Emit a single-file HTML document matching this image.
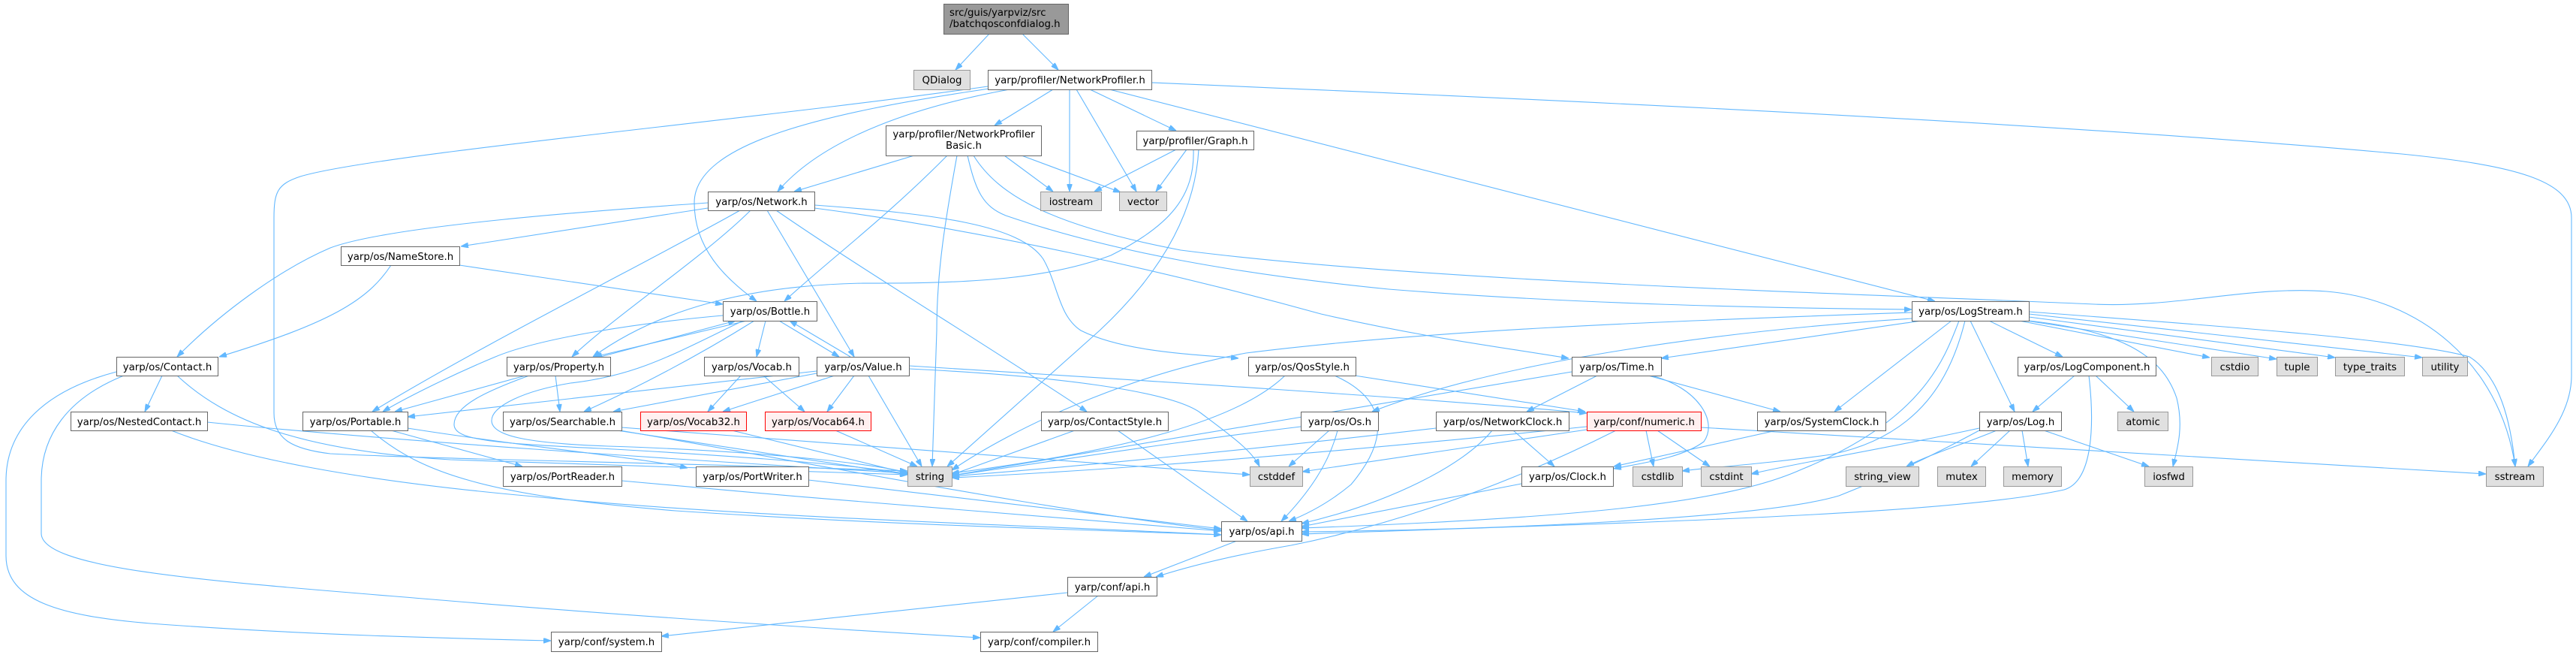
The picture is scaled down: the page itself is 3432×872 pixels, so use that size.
<!DOCTYPE html>
<html><head><meta charset="utf-8"><style>
html,body{margin:0;padding:0;background:#fff;}
svg{display:block;}
text{font-family:"DejaVu Sans","Liberation Sans",sans-serif;font-size:13.33px;fill:#000;}
.n{fill:#fff;stroke:#666;stroke-width:1;}
.g{fill:#e0e0e0;stroke:#999;stroke-width:1;}
.r{fill:#fff0f0;stroke:#ff0000;stroke-width:1;}
.t{fill:#999;stroke:#666;stroke-width:1;}
path.e{fill:none;stroke:#63b8ff;stroke-width:1.1;marker-end:url(#a);}
</style></head><body>
<svg width="3432" height="872" viewBox="0 0 3432 872" xmlns="http://www.w3.org/2000/svg">
<defs><marker id="a" viewBox="0 0 10 7" refX="10" refY="3.5" markerWidth="10" markerHeight="7" markerUnits="userSpaceOnUse" orient="auto"><path d="M0,0 L10,3.5 L0,7 Z" fill="#63b8ff" stroke="#63b8ff" stroke-width="1"/></marker></defs>
<rect width="3432" height="872" fill="#fff"/>
<g>
<path class="e" d="M1318,45 L1273,93"/>
<path class="e" d="M1362,45 L1410,93"/>
<path class="e" d="M1403,119 L1325,167"/>
<path class="e" d="M1425,119 L1425,255"/>
<path class="e" d="M1434,119 L1514,255"/>
<path class="e" d="M1452,119 L1567,174"/>
<path class="e" d="M1478,119 L2578,401"/>
<path class="e" d="M1534,110 C2000,130 2700,160 3200,205 C3350,220 3426,240 3426,290 L3426,500 C3426,550 3390,590 3368,621"/>
<path class="e" d="M1345,119 C1230,140 1100,180 1036,255"/>
<path class="e" d="M1318,118 C1100,150 925,190 925,270 C925,330 965,370 1008,401"/>
<path class="e" d="M1316,115 C1000,160 500,205 400,235 C370,245 365,255 365,290 L365,550 C365,585 390,598 440,604 C600,612 900,616 1209,627"/>
<path class="e" d="M1218,207 L1058,255"/>
<path class="e" d="M1262,207 C1180,290 1100,350 1045,401"/>
<path class="e" d="M1275,207 C1260,290 1248,360 1248,440 L1242,621"/>
<path class="e" d="M1289,207 C1300,255 1310,275 1340,287 C1480,335 1650,365 1850,385 C2100,405 2350,410 2547,412"/>
<path class="e" d="M1297,207 C1330,260 1400,300 1573,333 C1900,375 2450,390 2790,405 C2900,410 3000,380 3100,388 C3220,398 3330,480 3351,621"/>
<path class="e" d="M1338,207 L1403,255"/>
<path class="e" d="M1361,207 L1493,256"/>
<path class="e" d="M1567,199 L1458,255"/>
<path class="e" d="M1581,199 L1540,255"/>
<path class="e" d="M1590,199 C1592,260 1560,300 1480,340 C1400,370 1300,378 1150,377 C1000,380 880,410 790,475"/>
<path class="e" d="M1597,199 C1592,290 1540,370 1465,440 L1262,621"/>
<path class="e" d="M943,270 C800,280 520,300 440,330 C370,360 290,420 236,475"/>
<path class="e" d="M943,277 L614,328"/>
<path class="e" d="M986,280 C880,340 640,460 496,548"/>
<path class="e" d="M1000,280 C940,340 820,420 762,475"/>
<path class="e" d="M1022,280 L1138,475"/>
<path class="e" d="M1034,280 C1150,360 1300,450 1448,548"/>
<path class="e" d="M1085,273 C1250,285 1360,300 1390,345 C1410,380 1410,420 1440,440 C1500,470 1600,472 1650,477"/>
<path class="e" d="M1085,277 C1300,305 1550,360 1760,418 C1900,450 2000,462 2090,477"/>
<path class="e" d="M612,353 L963,405"/>
<path class="e" d="M521,353 C490,400 440,430 292,475"/>
<path class="e" d="M995,427 L792,475"/>
<path class="e" d="M800,475 L980,427"/>
<path class="e" d="M1020,427 L1008,475"/>
<path class="e" d="M1038,427 L1118,475"/>
<path class="e" d="M1133,475 L1052,427"/>
<path class="e" d="M963,420 C850,430 720,450 660,475 C600,500 540,530 510,548"/>
<path class="e" d="M1005,427 C920,480 840,520 778,548"/>
<path class="e" d="M990,427 C900,470 850,500 760,510 C700,520 655,540 655,560 C655,580 700,590 810,594 C1000,600 1150,615 1209,629"/>
<path class="e" d="M700,500 L526,548"/>
<path class="e" d="M740,500 L746,548"/>
<path class="e" d="M705,500 C650,520 605,540 605,565 C605,585 650,590 800,597 C1000,608 1150,620 1209,631"/>
<path class="e" d="M822,573 L1209,632"/>
<path class="e" d="M826,573 C1100,620 1400,680 1627,706"/>
<path class="e" d="M828,569 C1100,590 1450,615 1665,632"/>
<path class="e" d="M987,500 L943,548"/>
<path class="e" d="M1017,500 L1072,548"/>
<path class="e" d="M1112,500 L963,548"/>
<path class="e" d="M1138,500 L1102,548"/>
<path class="e" d="M1157,500 L1228,621"/>
<path class="e" d="M1088,497 L817,548"/>
<path class="e" d="M1088,494 L543,555"/>
<path class="e" d="M1211,491 C1400,500 1560,520 1600,550 C1640,580 1668,600 1678,621"/>
<path class="e" d="M1211,487 C1500,505 1900,530 2114,550"/>
<path class="e" d="M975,573 L1209,630"/>
<path class="e" d="M1113,573 L1222,621"/>
<path class="e" d="M1432,573 L1268,632"/>
<path class="e" d="M1489,573 L1662,694"/>
<path class="e" d="M1712,500 C1650,560 1500,600 1268,630"/>
<path class="e" d="M1778,500 C1845,530 1855,580 1800,645 C1770,670 1740,685 1717,694"/>
<path class="e" d="M1805,500 L2112,548"/>
<path class="e" d="M1771,573 L1717,621"/>
<path class="e" d="M1782,573 C1770,620 1740,660 1707,694"/>
<path class="e" d="M1733,568 C1550,590 1400,615 1268,633"/>
<path class="e" d="M2016,573 L2071,621"/>
<path class="e" d="M1988,573 C1950,620 1850,670 1734,697"/>
<path class="e" d="M1913,570 C1700,595 1450,620 1268,634"/>
<path class="e" d="M2193,573 L2203,621"/>
<path class="e" d="M2208,573 L2278,621"/>
<path class="e" d="M2114,572 L1735,628"/>
<path class="e" d="M2114,568 C1800,600 1500,625 1268,636"/>
<path class="e" d="M2266,569 L3312,631"/>
<path class="e" d="M2153,573 C2000,650 1850,700 1720,726 C1650,738 1590,752 1540,768"/>
<path class="e" d="M2128,500 L2034,548"/>
<path class="e" d="M2196,500 L2372,548"/>
<path class="e" d="M2200,500 C2260,515 2290,560 2270,588 C2240,610 2190,616 2150,624"/>
<path class="e" d="M2094,495 C1900,525 1600,575 1268,633"/>
<path class="e" d="M2367,573 L2150,621"/>
<path class="e" d="M2625,427 L2684,548"/>
<path class="e" d="M2650,427 L2748,475"/>
<path class="e" d="M2690,427 L2944,476"/>
<path class="e" d="M2700,427 L3033,478"/>
<path class="e" d="M2703,422 L3111,476"/>
<path class="e" d="M2703,418 L3227,476"/>
<path class="e" d="M2703,427 C2820,440 2880,470 2900,530 C2910,570 2900,600 2895,621"/>
<path class="e" d="M2703,415 C2900,430 3200,450 3290,475 C3330,500 3345,560 3351,621"/>
<path class="e" d="M2560,427 L2213,477"/>
<path class="e" d="M2547,424 C2300,440 2000,480 1828,548"/>
<path class="e" d="M2547,416 C2200,428 1900,440 1660,470 C1500,500 1350,570 1268,626"/>
<path class="e" d="M2600,427 L2444,548"/>
<path class="e" d="M2610,427 C2590,480 2560,560 2400,625 C2300,670 2100,690 1734,703"/>
<path class="e" d="M2618,427 C2600,500 2560,580 2440,605 C2350,618 2280,622 2241,627"/>
<path class="e" d="M2678,573 L2626,621"/>
<path class="e" d="M2694,573 L2702,621"/>
<path class="e" d="M2723,573 L2863,621"/>
<path class="e" d="M2660,573 C2620,590 2570,605 2540,621"/>
<path class="e" d="M2637,570 C2500,600 2400,615 2333,631"/>
<path class="e" d="M2637,573 C2550,620 2500,640 2450,660 C2350,690 2000,705 1734,708"/>
<path class="e" d="M2764,500 L2708,548"/>
<path class="e" d="M2792,500 L2843,548"/>
<path class="e" d="M2783,500 C2790,560 2790,640 2750,652 C2600,685 2200,695 1734,711"/>
<path class="e" d="M2027,644 L1734,701"/>
<path class="e" d="M1648,720 L1524,768"/>
<path class="e" d="M1422,789 L881,847"/>
<path class="e" d="M1463,793 L1403,841"/>
<path class="e" d="M216,500 L193,548"/>
<path class="e" d="M155,495 C60,520 8,570 8,640 L8,740 C8,800 80,820 200,830 C400,845 600,850 734,853"/>
<path class="e" d="M165,500 C90,530 55,580 55,640 L55,710 C55,760 300,775 600,800 C900,825 1150,840 1306,849"/>
<path class="e" d="M236,500 C300,560 400,600 600,612 C900,620 1100,628 1209,632"/>
<path class="e" d="M276,562 C500,585 900,612 1209,630"/>
<path class="e" d="M228,573 C320,610 480,640 700,660 C1000,690 1400,700 1627,712"/>
<path class="e" d="M521,573 L696,621"/>
<path class="e" d="M543,570 C700,595 860,610 916,623"/>
<path class="e" d="M494,573 C560,630 650,660 900,680 C1200,700 1450,705 1627,712"/>
<path class="e" d="M828,640 C1100,665 1400,690 1627,707"/>
<path class="e" d="M1077,639 C1300,665 1500,690 1627,704"/>
</g>
<g>
<rect class="t" x="1257.5" y="5.5" width="166" height="40"/>
<text x="1265" y="21">src/guis/yarpviz/src</text>
<text x="1265" y="36">/batchqosconfdialog.h</text>

<rect class="g" x="1217.5" y="93.5" width="75" height="26"/><text x="1255" y="111" text-anchor="middle">QDialog</text>
<rect class="n" x="1316.5" y="93.5" width="218" height="26"/><text x="1425.5" y="111" text-anchor="middle">yarp/profiler/NetworkProfiler.h</text>

<rect class="n" x="1180.5" y="167.5" width="207" height="40"/>
<text x="1284" y="183" text-anchor="middle">yarp/profiler/NetworkProfiler</text>
<text x="1284" y="198" text-anchor="middle">Basic.h</text>
<rect class="n" x="1514.5" y="174.5" width="156" height="25"/><text x="1592.5" y="192" text-anchor="middle">yarp/profiler/Graph.h</text>

<rect class="n" x="943.5" y="255.5" width="142" height="25"/><text x="1014.5" y="273" text-anchor="middle">yarp/os/Network.h</text>
<rect class="g" x="1386.5" y="255.5" width="81" height="25"/><text x="1427" y="273" text-anchor="middle">iostream</text>
<rect class="g" x="1491.5" y="255.5" width="63" height="25"/><text x="1523" y="273" text-anchor="middle">vector</text>

<rect class="n" x="454.5" y="328.5" width="158" height="25"/><text x="533.5" y="346" text-anchor="middle">yarp/os/NameStore.h</text>

<rect class="n" x="963.5" y="401.5" width="125" height="26"/><text x="1026" y="419" text-anchor="middle">yarp/os/Bottle.h</text>
<rect class="n" x="2547.5" y="401.5" width="156" height="26"/><text x="2625.5" y="419" text-anchor="middle">yarp/os/LogStream.h</text>

<rect class="n" x="155.5" y="475.5" width="135" height="25"/><text x="223" y="493" text-anchor="middle">yarp/os/Contact.h</text>
<rect class="n" x="675.5" y="475.5" width="138" height="25"/><text x="744.5" y="493" text-anchor="middle">yarp/os/Property.h</text>
<rect class="n" x="938.5" y="475.5" width="126" height="25"/><text x="1001.5" y="493" text-anchor="middle">yarp/os/Vocab.h</text>
<rect class="n" x="1088.5" y="475.5" width="123" height="25"/><text x="1150" y="493" text-anchor="middle">yarp/os/Value.h</text>
<rect class="n" x="1663.5" y="475.5" width="143" height="25"/><text x="1735" y="493" text-anchor="middle">yarp/os/QosStyle.h</text>
<rect class="n" x="2094.5" y="475.5" width="119" height="25"/><text x="2154" y="493" text-anchor="middle">yarp/os/Time.h</text>
<rect class="n" x="2688.5" y="475.5" width="184" height="25"/><text x="2780.5" y="493" text-anchor="middle">yarp/os/LogComponent.h</text>
<rect class="g" x="2946.5" y="475.5" width="62" height="25"/><text x="2977.5" y="493" text-anchor="middle">cstdio</text>
<rect class="g" x="3033.5" y="475.5" width="54" height="25"/><text x="3060.5" y="493" text-anchor="middle">tuple</text>
<rect class="g" x="3111.5" y="475.5" width="92" height="25"/><text x="3157.5" y="493" text-anchor="middle">type_traits</text>
<rect class="g" x="3227.5" y="475.5" width="60" height="25"/><text x="3257.5" y="493" text-anchor="middle">utility</text>

<rect class="n" x="94.5" y="548.5" width="182" height="25"/><text x="185.5" y="566" text-anchor="middle">yarp/os/NestedContact.h</text>
<rect class="n" x="403.5" y="548.5" width="140" height="25"/><text x="473.5" y="566" text-anchor="middle">yarp/os/Portable.h</text>
<rect class="n" x="670.5" y="548.5" width="158" height="25"/><text x="749.5" y="566" text-anchor="middle">yarp/os/Searchable.h</text>
<rect class="r" x="853.5" y="548.5" width="141" height="25"/><text x="924" y="566" text-anchor="middle">yarp/os/Vocab32.h</text>
<rect class="r" x="1019.5" y="548.5" width="141" height="25"/><text x="1090" y="566" text-anchor="middle">yarp/os/Vocab64.h</text>
<rect class="n" x="1387.5" y="548.5" width="169" height="25"/><text x="1472" y="566" text-anchor="middle">yarp/os/ContactStyle.h</text>
<rect class="n" x="1733.5" y="548.5" width="103" height="25"/><text x="1785" y="566" text-anchor="middle">yarp/os/Os.h</text>
<rect class="n" x="1913.5" y="548.5" width="177" height="25"/><text x="2002" y="566" text-anchor="middle">yarp/os/NetworkClock.h</text>
<rect class="r" x="2114.5" y="548.5" width="152" height="25"/><text x="2190.5" y="566" text-anchor="middle">yarp/conf/numeric.h</text>
<rect class="n" x="2341.5" y="548.5" width="171" height="25"/><text x="2427" y="566" text-anchor="middle">yarp/os/SystemClock.h</text>
<rect class="n" x="2637.5" y="548.5" width="109" height="25"/><text x="2692" y="566" text-anchor="middle">yarp/os/Log.h</text>
<rect class="g" x="2821.5" y="548.5" width="67" height="25"/><text x="2855" y="566" text-anchor="middle">atomic</text>

<rect class="n" x="670.5" y="621.5" width="158" height="26"/><text x="749.5" y="639" text-anchor="middle">yarp/os/PortReader.h</text>
<rect class="n" x="927.5" y="621.5" width="150" height="26"/><text x="1002.5" y="639" text-anchor="middle">yarp/os/PortWriter.h</text>
<rect class="g" x="1209.5" y="621.5" width="59" height="26"/><text x="1239" y="639" text-anchor="middle">string</text>
<rect class="g" x="1665.5" y="621.5" width="70" height="26"/><text x="1700.5" y="639" text-anchor="middle">cstddef</text>
<rect class="n" x="2027.5" y="621.5" width="122" height="26"/><text x="2088.5" y="639" text-anchor="middle">yarp/os/Clock.h</text>
<rect class="g" x="2175.5" y="621.5" width="66" height="26"/><text x="2208.5" y="639" text-anchor="middle">cstdlib</text>
<rect class="g" x="2266.5" y="621.5" width="67" height="26"/><text x="2300" y="639" text-anchor="middle">cstdint</text>
<rect class="g" x="2459.5" y="621.5" width="97" height="26"/><text x="2508" y="639" text-anchor="middle">string_view</text>
<rect class="g" x="2581.5" y="621.5" width="64" height="26"/><text x="2613.5" y="639" text-anchor="middle">mutex</text>
<rect class="g" x="2669.5" y="621.5" width="77" height="26"/><text x="2708" y="639" text-anchor="middle">memory</text>
<rect class="g" x="2857.5" y="621.5" width="64" height="26"/><text x="2889.5" y="639" text-anchor="middle">iosfwd</text>
<rect class="g" x="3312.5" y="621.5" width="76" height="26"/><text x="3350.5" y="639" text-anchor="middle">sstream</text>

<rect class="n" x="1627.5" y="694.5" width="107" height="26"/><text x="1681" y="712" text-anchor="middle">yarp/os/api.h</text>
<rect class="n" x="1422.5" y="768.5" width="119" height="25"/><text x="1482" y="786" text-anchor="middle">yarp/conf/api.h</text>
<rect class="n" x="734.5" y="841.5" width="147" height="26"/><text x="808" y="859" text-anchor="middle">yarp/conf/system.h</text>
<rect class="n" x="1306.5" y="841.5" width="156" height="26"/><text x="1384.5" y="859" text-anchor="middle">yarp/conf/compiler.h</text>
</g>
</svg>
</body></html>
